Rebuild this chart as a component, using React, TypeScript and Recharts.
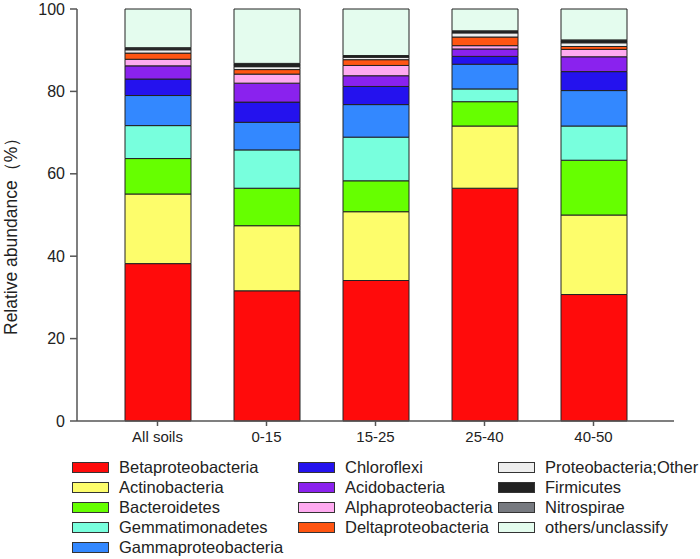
import { BarChart, Bar, XAxis, YAxis } from 'recharts';

// sampling depths (cm)
const categories = ['All soils', '0-15', '15-25', '25-40', '40-50'];

// relative abundance (%) per taxon, stacked bottom -> top
const beta = [38.2, 31.6, 34.1, 56.5, 30.7];
const actino = [16.9, 15.8, 16.7, 15.1, 19.3];
const bacteroidetes = [8.6, 9.1, 7.5, 5.9, 13.3];
const gemma = [8.0, 9.3, 10.6, 3.1, 8.3];
const gamma = [7.3, 6.7, 7.9, 6.0, 8.6];
const chloroflexi = [4.0, 4.9, 4.4, 1.9, 4.6];
const acido = [3.2, 4.6, 2.6, 1.8, 3.6];
const alpha = [1.6, 2.2, 2.5, 0.8, 1.8];
const delta = [1.5, 1.1, 1.4, 2.1, 0.7];
const protOther = [0.8, 0.7, 0.6, 1.0, 0.9];
const firmicutes = [0.4, 0.7, 0.3, 0.4, 0.5];
const nitrospirae = [0.1, 0.1, 0.1, 0.1, 0.2];
const others = [9.4, 13.2, 11.3, 5.3, 7.5];

const yTicks = [0, 20, 40, 60, 80, 100];

const taxa = [
    { key: 'Betaproteobacteria', values: beta, color: '#ff0b0b' },
    { key: 'Actinobacteria', values: actino, color: '#fdfd6b' },
    { key: 'Bacteroidetes', values: bacteroidetes, color: '#66ff00' },
    { key: 'Gemmatimonadetes', values: gemma, color: '#78ffdd' },
    { key: 'Gammaproteobacteria', values: gamma, color: '#3388ff' },
    { key: 'Chloroflexi', values: chloroflexi, color: '#2412ee' },
    { key: 'Acidobacteria', values: acido, color: '#8a22ee' },
    { key: 'Alphaproteobacteria', values: alpha, color: '#ffaaf0' },
    { key: 'Deltaproteobacteria', values: delta, color: '#ff5512' },
    { key: 'Proteobacteria;Other', values: protOther, color: '#eeeeee' },
    { key: 'Firmicutes', values: firmicutes, color: '#222222' },
    { key: 'Nitrospirae', values: nitrospirae, color: '#777a80' },
    { key: 'others/unclassify', values: others, color: '#e4fcee' },
];

const data = categories.map((name, i) => {
    const row: any = { name };
    taxa.forEach(t => { row[t.key] = t.values[i]; });
    return row;
});

const FONT = '"Liberation Sans", Arial, sans-serif';
const AXIS = '#555';

// legend columns (column-major like the original)
const legendCols = [taxa.slice(0, 5), taxa.slice(5, 9), taxa.slice(9)];
const colLeft = [72, 298, 498];

export default function App() {
    return (
        <div style={{ position: 'absolute', left: 0, top: 0, width: 700, height: 559, background: '#fff', fontFamily: FONT }}>
            <BarChart
                width={700}
                height={450}
                data={data}
                margin={{ top: 9, right: 26, bottom: 0, left: 22 }}
                barSize={66}
            >
                <XAxis
                    dataKey="name"
                    padding={{ left: 26, right: 26 }}
                    height={29}
                    stroke={AXIS}
                    strokeWidth={1.5}
                    tickSize={5}
                    tickMargin={5}
                    tick={{ fill: '#222', fontSize: 15, fontFamily: FONT }}
                />
                <XAxis xAxisId="top" dataKey="name" orientation="top" height={0} tick={false} tickLine={false} stroke={AXIS} strokeWidth={1.5} />
                <YAxis
                    domain={[0, 100]}
                    ticks={yTicks}
                    width={55}
                    stroke={AXIS}
                    strokeWidth={1.5}
                    tickSize={7}
                    tickMargin={5}
                    tick={{ fill: '#222', fontSize: 16, fontFamily: FONT }}
                    label={{ value: 'Relative abundance（%）', angle: -90, position: 'insideLeft', dx: -16, dy: 120, style: { fill: '#222', fontSize: 17.5, fontFamily: FONT } }}
                />
                <YAxis yAxisId="right" orientation="right" width={0} tick={false} tickLine={false} stroke={AXIS} strokeWidth={1.5} />
                {taxa.map(t => (
                    <Bar
                        key={t.key}
                        dataKey={t.key}
                        stackId="a"
                        fill={t.color}
                        stroke="#222"
                        strokeWidth={1}
                        isAnimationActive={false}
                    />
                ))}
            </BarChart>
            {legendCols.map((col, ci) => (
                <div key={ci} style={{ position: 'absolute', left: colLeft[ci], top: 458 }}>
                    {col.map(t => (
                        <div key={t.key} style={{ display: 'flex', alignItems: 'center', height: 19.9 }}>
                            <span style={{ display: 'inline-block', width: 35, height: 9, background: t.color, border: '1.5px solid #333', marginRight: 10 }} />
                            <span style={{ fontSize: 16.5, color: '#222', whiteSpace: 'nowrap' }}>{t.key}</span>
                        </div>
                    ))}
                </div>
            ))}
        </div>
    );
}
